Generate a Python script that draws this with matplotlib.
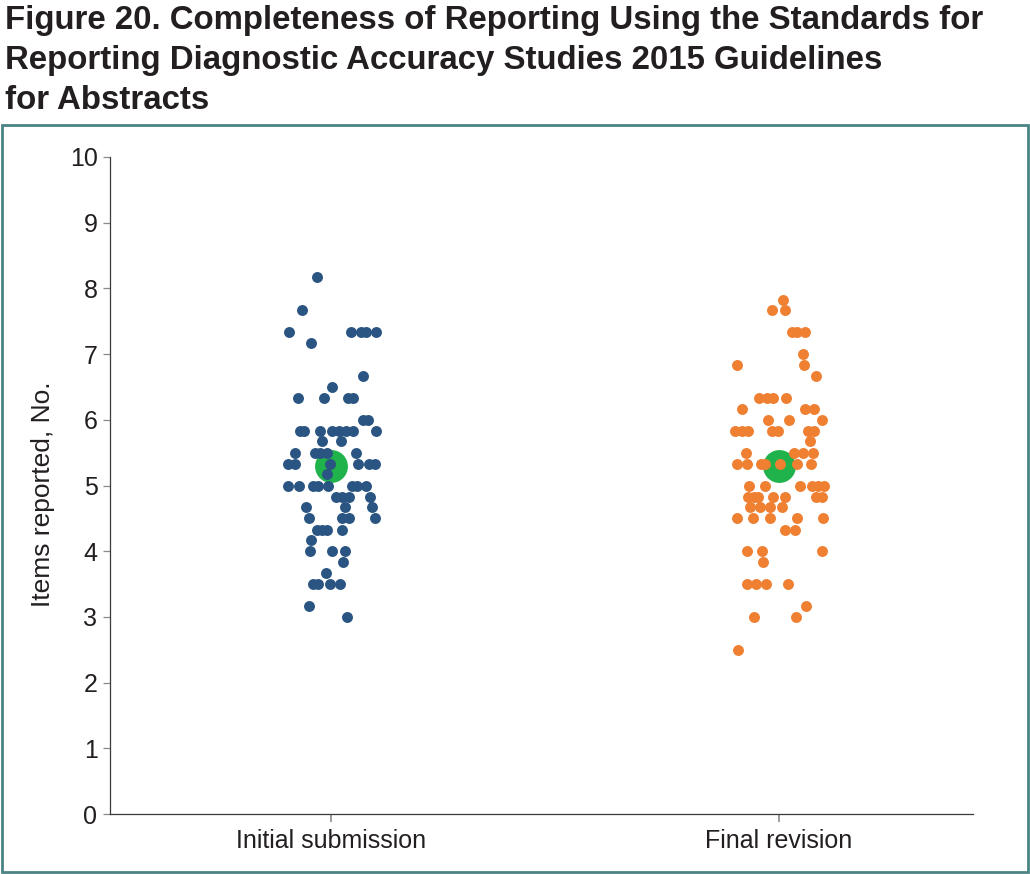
"""Strip plot of reporting completeness (STARD 2015 for Abstracts)."""

import numpy as np
import matplotlib.pyplot as plt
from matplotlib.patches import Rectangle

plt.rcParams["font.family"] = ["Liberation Sans", "DejaVu Sans"]

categories = ["Initial submission", "Final revision"]

# items reported per abstract
initial_scores = [
    8.17, 7.67, 7.33, 7.33, 7.33, 7.33, 7.33, 7.17, 6.67, 6.5,
    6.33, 6.33, 6.33, 6.33, 6.0, 6.0,
    5.83, 5.83, 5.83, 5.83, 5.83, 5.83, 5.83, 5.83, 5.67, 5.67,
    5.5, 5.5, 5.5, 5.5, 5.5, 5.33, 5.33, 5.33, 5.33, 5.33, 5.33, 5.17,
    5.0, 5.0, 5.0, 5.0, 5.0, 5.0, 5.0, 5.0, 4.83, 4.83, 4.83, 4.83,
    4.67, 4.67, 4.67, 4.5, 4.5, 4.5, 4.5, 4.33, 4.33, 4.33, 4.33, 4.17,
    4.0, 4.0, 4.0, 3.83, 3.67, 3.5, 3.5, 3.5, 3.5, 3.17, 3.0,
]
# horizontal jitter (fraction of category spacing)
initial_jitter = [
    -0.031, -0.065, -0.094, 0.045, 0.067, 0.078, 0.100, -0.045, 0.071, 0.002,
    -0.074, -0.016, 0.038, 0.049, 0.071, 0.083,
    -0.069, -0.060, -0.025, 0.002, 0.018, 0.033, 0.049, 0.100, -0.020, 0.022,
    -0.080, -0.036, -0.025, -0.009, 0.056, -0.096, -0.080, -0.002, 0.060, 0.085, 0.098, -0.009,
    -0.096, -0.071, -0.040, -0.029, -0.007, 0.047, 0.058, 0.078, 0.011, 0.025, 0.040, 0.087,
    -0.056, 0.031, 0.092, -0.049, 0.025, 0.040, 0.098, -0.031, -0.020, -0.009, 0.025, -0.045,
    -0.047, 0.002, 0.031, 0.027, -0.011, -0.040, -0.029, -0.002, 0.020, -0.049, 0.036,
]

final_scores = [
    7.83, 7.67, 7.67, 7.33, 7.33, 7.33, 7.0, 6.83, 6.83, 6.67,
    6.33, 6.33, 6.33, 6.33, 6.17, 6.17, 6.17, 6.0, 6.0, 6.0,
    5.83, 5.83, 5.83, 5.83, 5.83, 5.83, 5.83, 5.67, 5.5, 5.5, 5.5, 5.5,
    5.33, 5.33, 5.33, 5.33, 5.33, 5.33, 5.33, 5.0, 5.0, 5.0, 5.0, 5.0, 5.0,
    4.83, 4.83, 4.83, 4.83, 4.83, 4.83, 4.83, 4.67, 4.67, 4.67, 4.67,
    4.5, 4.5, 4.5, 4.5, 4.5, 4.33, 4.33, 4.0, 4.0, 4.0, 3.83,
    3.5, 3.5, 3.5, 3.5, 3.17, 3.0, 3.0, 2.5,
]
final_jitter = [
    0.009, -0.016, 0.013, 0.029, 0.040, 0.058, 0.054, -0.094, 0.056, 0.083,
    -0.045, -0.027, -0.013, 0.016, -0.083, 0.058, 0.078, -0.025, 0.022, 0.096,
    -0.098, -0.083, -0.069, -0.016, -0.002, 0.065, 0.078, 0.069, -0.074, 0.033, 0.054, 0.076,
    -0.094, -0.071, -0.040, -0.031, 0.002, 0.040, 0.071, -0.067, -0.031, 0.047, 0.074, 0.087, 0.100,
    -0.069, -0.056, -0.047, -0.013, 0.013, 0.083, 0.096, -0.065, -0.042, -0.020, 0.007,
    -0.094, -0.058, -0.020, 0.040, 0.098, 0.013, 0.036, -0.071, -0.038, 0.096, -0.036,
    -0.071, -0.051, -0.029, 0.020, 0.060, -0.056, 0.038, -0.092,
]

group_means = [5.30, 5.30]

dot_colors = ["#2a5582", "#ef7f31"]
mean_color = "#20b24b"
text_color = "#231f20"

title = ("Figure 20. Completeness of Reporting Using the Standards for\n"
         "Reporting Diagnostic Accuracy Studies 2015 Guidelines\n"
         "for Abstracts")


def main():
    W, H = 1030, 874
    fig = plt.figure(figsize=(W / 100, H / 100), dpi=100)

    fig.text(5 / W, 1 - 5 / H, title, ha="left", va="top", fontsize=23.8,
             fontweight="bold", color=text_color, linespacing=1.38)

    # teal frame around the chart panel
    fig.patches.append(Rectangle((2 / W, 2 / H), 1026 / W, (H - 125 - 2) / H,
                                 transform=fig.transFigure, fill=False,
                                 edgecolor="#4b8484", linewidth=2.0))

    ax = fig.add_axes([110 / W, 1 - 814 / H, 863 / W, 657 / H])

    series = [(initial_scores, initial_jitter), (final_scores, final_jitter)]
    for i, (scores, jitter) in enumerate(series):
        ax.scatter([i], [group_means[i]], s=560, color=mean_color,
                   linewidths=0, zorder=2)
        ax.scatter(i + np.asarray(jitter), scores, s=62, color=dot_colors[i],
                   linewidths=0, zorder=3)

    ax.set_xlim(-0.493, 1.433)
    ax.set_ylim(0, 10)
    ax.set_yticks(range(0, 11))
    ax.set_xticks([0, 1])
    ax.set_xticklabels(categories)

    for side in ("top", "right"):
        ax.spines[side].set_visible(False)
    for side in ("left", "bottom"):
        ax.spines[side].set_color("#3a3a3a")
        ax.spines[side].set_linewidth(0.9)

    ax.tick_params(axis="y", length=5, width=0.9, color="#8a8a8a", pad=4,
                   labelsize=18, labelcolor=text_color)
    ax.tick_params(axis="x", length=6, width=1.2, color="#8a8a8a", pad=5,
                   labelsize=18, labelcolor=text_color)

    ax.set_ylabel("Items reported, No.", fontsize=19, color=text_color)
    ax.yaxis.set_label_coords(-0.064, 0.487)

    fig.savefig("out.png", dpi=100)


if __name__ == "__main__":
    main()
